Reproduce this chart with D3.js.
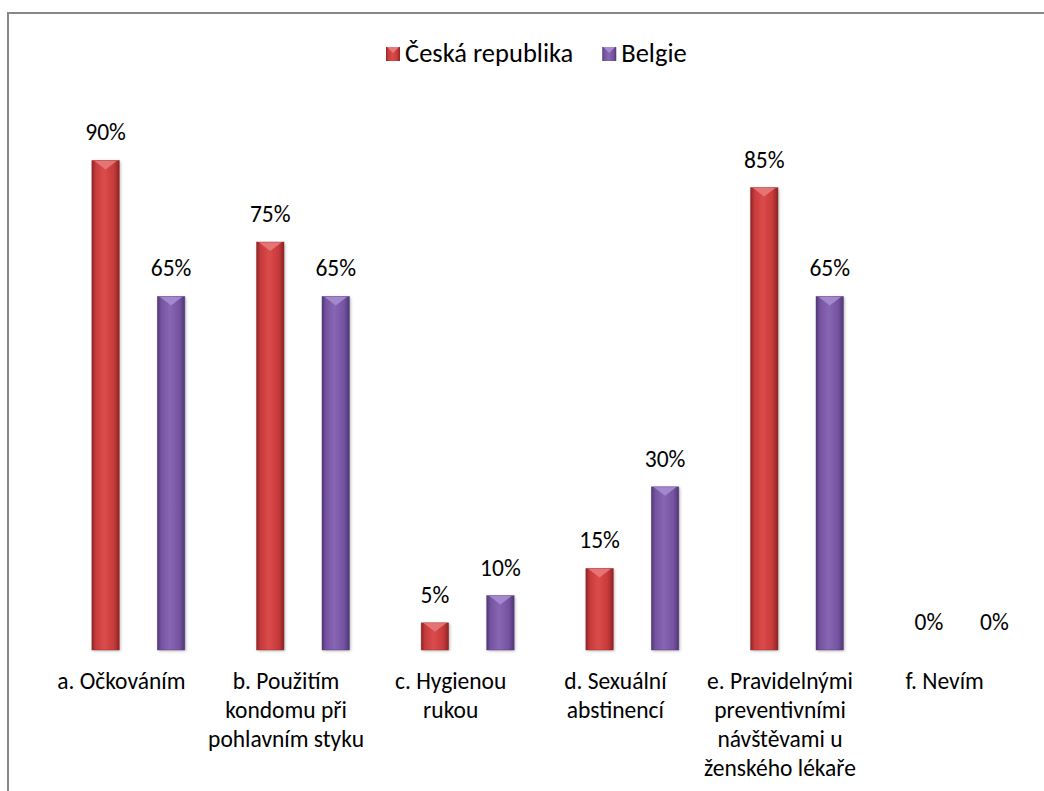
<!DOCTYPE html>
<html>
<head>
<meta charset="utf-8">
<script src="https://cdn.jsdelivr.net/npm/d3@7"></script>
<style>
  html, body { margin: 0; padding: 0; background: #fff; }
  svg { display: block; font-family: Carlito, Lato, "Open Sans", sans-serif; }
</style>
</head>
<body>
<svg id="chart" width="1044" height="791"></svg>
<script>
const categories = [
  "a. Očkováním",
  "b. Použitím\nkondomu při\npohlavním styku",
  "c. Hygienou\nrukou",
  "d. Sexuální\nabstinencí",
  "e. Pravidelnými\npreventivními\nnávštěvami u\nženského lékaře",
  "f. Nevím"
];
const seriesNames = ["Česká republika", "Belgie"];
const ceskaValues = [0.90, 0.75, 0.05, 0.15, 0.85, 0.00];
const belgieValues = [0.65, 0.65, 0.10, 0.30, 0.65, 0.00];
const seriesValues = [ceskaValues, belgieValues];

const colors = [
  { dark: "#8e2424", mid: "#c63a3b", light: "#dc4b4c", cap: "#e8797a" },
  { dark: "#4f3774", mid: "#7553a1", light: "#8766b3", cap: "#a78cd0" }
];
const FONT = "Carlito, Lato, 'Open Sans', sans-serif";

const svg = d3.select("#chart");
const defs = svg.append("defs");

colors.forEach((c, i) => {
  const g = defs.append("linearGradient").attr("id", "grad" + i)
    .attr("x1", "0%").attr("x2", "100%").attr("y1", "0%").attr("y2", "0%");
  g.append("stop").attr("offset", "0%").attr("stop-color", c.dark);
  g.append("stop").attr("offset", "14%").attr("stop-color", c.mid);
  g.append("stop").attr("offset", "45%").attr("stop-color", c.light);
  g.append("stop").attr("offset", "80%").attr("stop-color", c.mid);
  g.append("stop").attr("offset", "100%").attr("stop-color", c.dark);
});
const f = defs.append("filter").attr("id", "shadow").attr("x", "-30%").attr("y", "-10%").attr("width", "160%").attr("height", "130%");
f.append("feDropShadow").attr("dx", 1).attr("dy", 1).attr("stdDeviation", 1.5).attr("flood-color", "#000").attr("flood-opacity", 0.3);

svg.append("rect").attr("x", 8).attr("y", 13).attr("width", 1100).attr("height", 900)
  .attr("fill", "none").attr("stroke", "#878787").attr("stroke-width", 2);

const plotLeft = 39, plotRight = 1027, baseY = 650, topY = 106;

const x0 = d3.scaleBand().domain(categories).range([plotLeft, plotRight]).padding(0);
const x1 = d3.scaleBand().domain(seriesNames).range([-29.5, 63.5]).paddingInner(0.58).paddingOuter(0);
const y = d3.scaleLinear().domain([0, 1]).range([baseY, topY]);

const groups = svg.append("g").selectAll("g").data(categories).join("g")
  .attr("transform", d => `translate(${x0(d) + x0.bandwidth() / 2},0)`);

groups.each(function(cat, ci) {
  const g = d3.select(this);
  seriesNames.forEach((s, si) => {
    const v = seriesValues[si][ci];
    const bx = x1(s), bw = x1.bandwidth();
    const top = y(v), h = baseY - top;
    if (h > 0.5) {
      g.append("rect").attr("x", bx).attr("y", top).attr("width", bw).attr("height", h)
        .attr("fill", `url(#grad${si})`).attr("filter", "url(#shadow)");
      const capH = Math.min(9, h);
      g.append("path")
        .attr("d", `M${bx + 2},${top} L${bx + bw - 2},${top} L${bx + bw / 2},${top + capH} Z`)
        .attr("fill", colors[si].cap).attr("opacity", 0.9);
      g.append("rect").attr("x", bx).attr("y", top).attr("width", bw).attr("height", h)
        .attr("fill", "none").attr("stroke", colors[si].dark).attr("stroke-width", 0.6).attr("opacity", 0.6);
    }
    g.append("text").attr("x", bx + bw / 2).attr("y", top - 20)
      .attr("text-anchor", "middle").attr("font-size", 23.5).attr("font-family", FONT).attr("fill", "#000")
      .text(d3.format(".0%")(v));
  });
});

svg.append("line").attr("x1", plotLeft).attr("x2", plotRight).attr("y1", baseY).attr("y2", baseY)
  .attr("stroke", "#868686").attr("stroke-width", 2).attr("filter", "url(#shadow)");

const xAxis = d3.axisBottom(x0).tickSize(0).tickPadding(0);
const axisG = svg.append("g").attr("transform", `translate(0,${baseY})`).call(xAxis)
  .attr("font-size", 23.5).attr("font-family", FONT);
axisG.select(".domain").remove();
axisG.selectAll(".tick text").each(function(d) {
  const t = d3.select(this);
  t.text(null).attr("y", 0).attr("dy", null).attr("fill", "#000");
  d.split("\n").forEach((line, i) => {
    t.append("tspan").attr("x", 0).attr("y", 39 + i * 29).text(line);
  });
});

const legend = svg.append("g").attr("transform", "translate(386,62)");
let lx = 0;
seriesNames.forEach((s, i) => {
  const lg = legend.append("g").attr("transform", `translate(${lx},0)`);
  lg.append("rect").attr("x", 0).attr("y", -15).attr("width", 14).attr("height", 14)
    .attr("fill", `url(#grad${i})`);
  lg.append("path").attr("d", "M1,-15 L13,-15 L7,-9 Z").attr("fill", colors[i].cap);
  const t = lg.append("text").attr("x", 19).attr("y", 0).attr("font-size", 26.5)
    .attr("font-family", FONT).attr("fill", "#000").text(s);
  lx += 19 + t.node().getComputedTextLength() + 29;
});
</script>
</body>
</html>
